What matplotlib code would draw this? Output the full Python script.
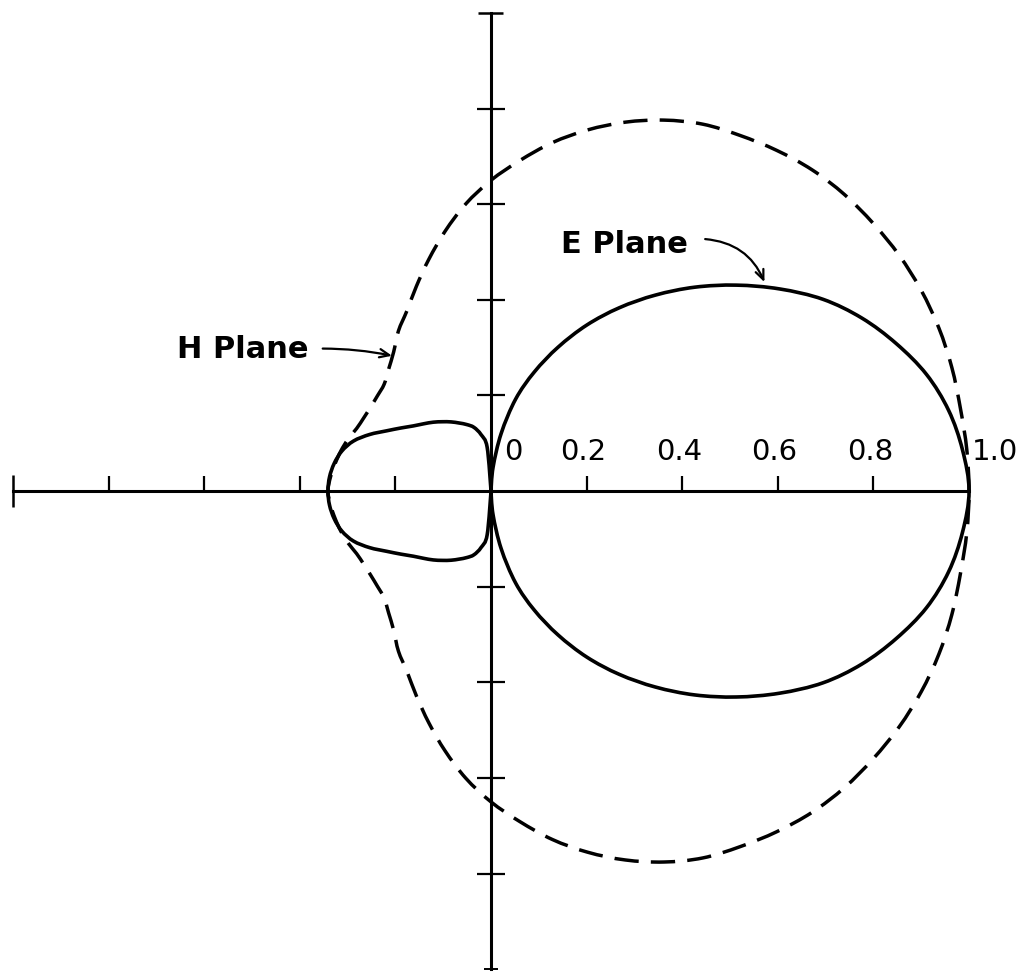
import numpy as np
import matplotlib.pyplot as plt
from matplotlib.path import Path
from matplotlib.patches import PathPatch

# radiation pattern readings (relative field), upper half, pattern is symmetric about the axis
angles = np.arange(0, 185, 5)  # degrees
e_plane = [1.000, 0.990, 0.972, 0.943, 0.902, 0.856, 0.802, 0.737, 0.670, 0.603,
           0.535, 0.468, 0.401, 0.332, 0.265, 0.199, 0.122, 0.050, 0.000,
           0.092, 0.120, 0.138, 0.148, 0.157, 0.167, 0.177, 0.188, 0.199,
           0.212, 0.230, 0.252, 0.280, 0.306, 0.323, 0.333, 0.339, 0.341]
h_plane = [1.000, 0.999, 0.997, 0.998, 0.997, 0.993, 0.986, 0.976, 0.965, 0.950,
           0.930, 0.908, 0.886, 0.856, 0.821, 0.782, 0.740, 0.694, 0.650,
           0.603, 0.552, 0.502, 0.456, 0.416, 0.387, 0.355, 0.333, 0.316,
           0.310, 0.307, 0.307, 0.310, 0.318, 0.325, 0.331, 0.337, 0.341]

x_ticks = [-0.8, -0.6, -0.4, -0.2, 0.2, 0.4, 0.6, 0.8]
y_ticks = [-0.8, -0.6, -0.4, -0.2, 0.2, 0.4, 0.6, 0.8]
x_label_vals = [0.0, 0.2, 0.4, 0.6, 0.8, 1.0]
x_labels = ["0", "0.2", "0.4", "0.6", "0.8", "1.0"]


def pattern_path(r_half):
    """mirror the upper half, convert to x/y and join the points with a smooth closed curve"""
    r = np.concatenate([r_half, r_half[1:-1][::-1]])
    th = np.deg2rad(np.concatenate([angles, 360 - angles[1:-1][::-1]]))
    pts = np.column_stack([r * np.cos(th), r * np.sin(th)])
    tang = (np.roll(pts, -1, axis=0) - np.roll(pts, 1, axis=0)) / 6.0
    tang[r == 0] = 0  # keep the cusp at the origin sharp
    n = len(pts)
    verts = [pts[0]]
    codes = [Path.MOVETO]
    for i in range(n):
        j = (i + 1) % n
        verts += [pts[i] + tang[i], pts[j] - tang[j], pts[j]]
        codes += [Path.CURVE4] * 3
    return Path(verts, codes)


fig = plt.figure(figsize=(10.25, 9.74), dpi=100)
ax = fig.add_axes([0, 0, 1, 1])
ax.set_xlim(-1.027, 1.117)
ax.set_ylim(-1.010, 1.027)
ax.axis('off')

# axes drawn by hand
ax.plot([-1.0, 1.0], [0, 0], color='black', lw=2.2)
ax.plot([0, 0], [-1.0, 1.0], color='black', lw=2.2)
ax.vlines(x_ticks, 0, 0.032, color='black', lw=1.6)
ax.hlines(y_ticks, -0.03, 0.03, color='black', lw=1.6)
ax.vlines([-1.0], -0.033, 0.033, color='black', lw=1.8)
ax.hlines([1.0], -0.028, 0.025, color='black', lw=1.8)
ax.hlines([-1.0], -0.015, 0.015, color='black', lw=1.4)

# patterns
ax.add_patch(PathPatch(pattern_path(np.array(e_plane)), fill=False,
                       edgecolor='black', lw=2.6, joinstyle='round'))
ax.add_patch(PathPatch(pattern_path(np.array(h_plane)), fill=False,
                       edgecolor='black', lw=2.5, linestyle=(0, (7, 3.5))))

# axis numbers
for v, s in zip(x_label_vals, x_labels):
    if v == 0:
        xpos = 0.046
    elif v == 1.0:
        xpos = 1.054
    else:
        xpos = v - 0.007
    ax.text(xpos, 0.082, s, ha='center', va='center', fontsize=21)

# labels with arrows
ax.text(0.28, 0.515, 'E Plane', ha='center', va='center', fontsize=22, fontweight='bold')
ax.annotate('', xy=(0.572, 0.437), xytext=(0.448, 0.527),
            arrowprops=dict(arrowstyle='->,head_length=0.7,head_width=0.3',
                            lw=1.6, color='black', shrinkA=0, shrinkB=0,
                            connectionstyle='arc3,rad=-0.3'))
ax.text(-0.52, 0.297, 'H Plane', ha='center', va='center', fontsize=22, fontweight='bold')
ax.annotate('', xy=(-0.207, 0.283), xytext=(-0.352, 0.298),
            arrowprops=dict(arrowstyle='->,head_length=0.7,head_width=0.3',
                            lw=1.6, color='black', shrinkA=0, shrinkB=0,
                            connectionstyle='arc3,rad=-0.05'))

fig.savefig('out.png', dpi=100)
